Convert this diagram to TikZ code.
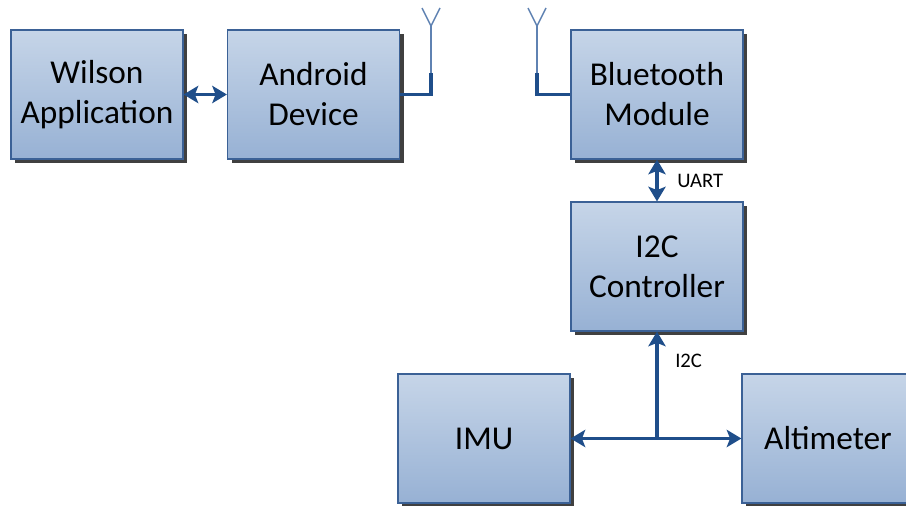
\documentclass[tikz,border=0pt]{standalone}
\usepackage{fontspec}
\setmainfont{Carlito}
\usetikzlibrary{shadows}
\usetikzlibrary{arrows.meta}

\definecolor{boxtop}{HTML}{C6D5E8}
\definecolor{boxbot}{HTML}{97B1D4}
\definecolor{boxline}{HTML}{3B6196}
\definecolor{wire}{HTML}{1F4E8A}
\definecolor{antthin}{HTML}{5F82B2}

\tikzset{
    block/.style={draw=boxline, line width=0.9pt, top color=boxtop, bottom color=boxbot,
        minimum width=129pt, minimum height=96.75pt, align=center, font=\fontsize{25}{30}\selectfont,
        drop shadow={shadow xshift=3pt, shadow yshift=-3pt, fill=black!75, opacity=1}},
    wire/.style={draw=wire, line width=2.5pt},
    tip/.style={wire, {Stealth[length=11pt,width=13pt,inset=2.5pt]}-{Stealth[length=11pt,width=13pt,inset=2.5pt]}},
    uptip/.style={wire, -{Stealth[length=11pt,width=13pt,inset=2.5pt]}},
    thinant/.style={draw=antthin, line width=1.1pt},
    lbl/.style={font=\fontsize{15.5}{17}\selectfont, anchor=west, inner sep=0pt}
}

\begin{document}
\begin{tikzpicture}[x=0.75pt, y=-0.75pt]
        \useasboundingbox (0,0) rectangle (906,506);

        \node[block] (wilson) at (97,94.5) {Wilson\\Application};
        \node[block] (android) at (313.5,94.5) {Android\\Device};
        \node[block] (bt) at (657,94.5) {Bluetooth\\Module};
        \node[block] (i2c) at (657,266.5) {I2C\\Controller};
        \node[block] (imu) at (484,438.5) {IMU};
        \node[block] (alt) at (828,438.5) {Altimeter};

        % antennas
        \coordinate (antL) at (431,73);
        \coordinate (antLtop) at (431,26);
        \coordinate (antR) at (537,73);
        \coordinate (antRtop) at (537,26);
        \coordinate (bus) at (657,438);

        \draw[wire] (android.east) -| (antL);
        \draw[thinant] (antL) -- (antLtop);
        \draw[thinant] (422,8) -- (antLtop) -- (440,8);
        \draw[wire] (bt.west) -| (antR);
        \draw[thinant] (antR) -- (antRtop);
        \draw[thinant] (528,8) -- (antRtop) -- (546,8);

        \draw[tip] (wilson.east) -- (android.west);
        \draw[tip] (bt.south) -- (i2c.north);
        \draw[tip] (imu.east) -- (alt.west);
        \draw[uptip] (bus) -- (i2c.south);

        \node[lbl] (uart) at (677,181) {UART};
        \node[lbl] (i2clbl) at (675,361) {I2C};
    \end{tikzpicture}
\end{document}
